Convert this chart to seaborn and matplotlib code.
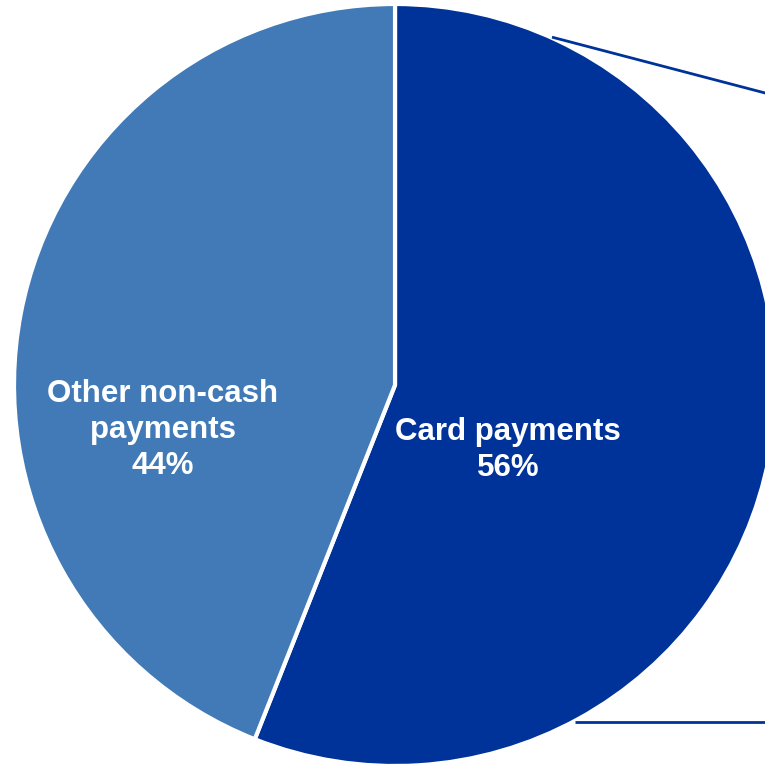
import matplotlib
matplotlib.use("Agg")
import matplotlib.pyplot as plt
import seaborn as sns

# Share of non-cash payments
categories = ["Card payments", "Other non-cash\npayments"]
shares = [56, 44]
colors = ["#003399", "#417AB7"]

sns.set_theme(style="white")
plt.rcParams["font.family"] = ["Liberation Sans", "DejaVu Sans"]

fig = plt.figure(figsize=(7.65, 7.65), dpi=100)
ax = fig.add_axes([0, 0, 1, 1])

wedges, _ = ax.pie(
    shares,
    colors=colors,
    startangle=90,
    counterclock=False,
    radius=1.0,
    wedgeprops=dict(edgecolor="white", linewidth=3),
)

# Wedge labels
label_pos = [(0.297, -0.171), (-0.610, -0.118)]
for (x, y), name, val in zip(label_pos, categories, shares):
    ax.text(x, y, f"{name}\n{val}%", ha="center", va="center",
            color="white", fontsize=22.5, fontweight="bold", linespacing=1.28)

# Connector lines toward the breakdown of card payments
ax.plot([0.412, 1.08], [0.913, 0.738], color="#003399", lw=2, solid_capstyle="butt")
ax.plot([0.472, 1.10], [-0.885, -0.885], color="#003399", lw=2, solid_capstyle="butt")

ax.set_xlim(-1.0367, 0.971)
ax.set_ylim(-0.9974, 1.0105)
ax.set_aspect("equal")
ax.axis("off")

fig.savefig("out.png", dpi=100)
